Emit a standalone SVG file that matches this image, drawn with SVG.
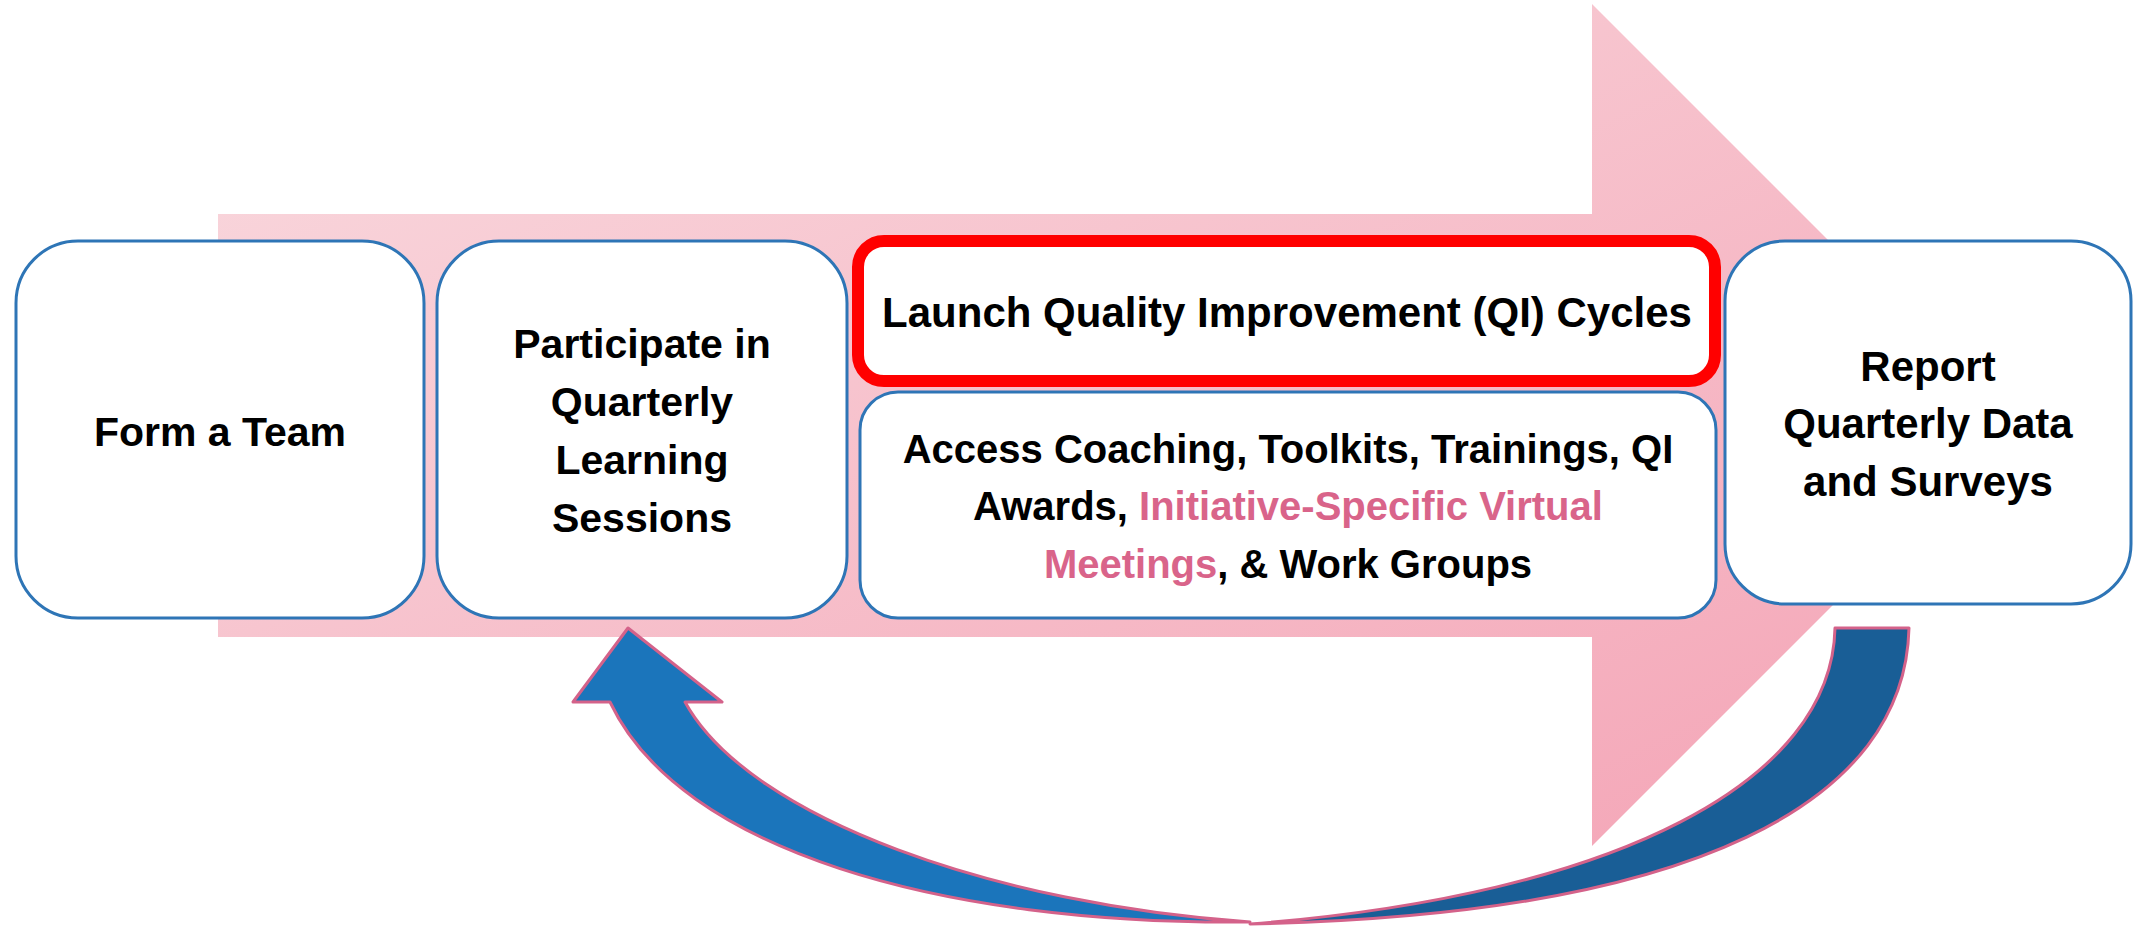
<svg xmlns="http://www.w3.org/2000/svg" width="2134" height="926" viewBox="0 0 2134 926">
<defs>
<linearGradient id="pinkGrad" x1="0" y1="0" x2="1" y2="1">
<stop offset="0" stop-color="#f9dadf"/>
<stop offset="1" stop-color="#f4a3b5"/>
</linearGradient>
<style>
.box{fill:#ffffff;stroke:#2e75b6;stroke-width:3}
.red{fill:#ffffff;stroke:#ff0000;stroke-width:12}
.t{font-family:"Liberation Sans",Arial,sans-serif;font-weight:bold;font-size:41px;fill:#000000;text-anchor:middle}
.s40{font-size:40px}
.pk{fill:#d9648a}
.cl{fill:#1b75bb;stroke:#d4628a;stroke-width:3;stroke-linejoin:round}
.cd{fill:#195e96;stroke:#d4628a;stroke-width:3;stroke-linejoin:round}
</style>
</defs>
<rect width="2134" height="926" fill="#ffffff"/>
<g id="bigArrow">
<path d="M218,214 L1592,214 L1592,4 L2013,425 L1592,846 L1592,637 L218,637 Z" fill="url(#pinkGrad)"/>
</g>
<g id="connectors">
<path class="cd" d="M1835,628 L1909,628 C1905,800 1700,915 1250,924 C1620,895 1832,780 1835,628 Z"/>
<path class="cl" d="M628,628 L722,702 L685,702 C750,820 1000,905 1250,922 C940,925 680,850 610,702 L573,702 Z"/>
</g>
<g id="node-form-team">
<rect class="box" x="16" y="241" width="408" height="377" rx="62"/>
<text class="t" x="220" y="446">Form a Team</text>
</g>
<g id="node-learning-sessions">
<rect class="box" x="437" y="241" width="410" height="377" rx="62"/>
<text class="t" x="642" y="358">Participate in</text>
<text class="t" x="642" y="416">Quarterly</text>
<text class="t" x="642" y="474">Learning</text>
<text class="t" x="642" y="532">Sessions</text>
</g>
<g id="node-qi-cycles">
<rect class="red" x="858" y="241" width="857" height="140" rx="26"/>
<text class="t" x="1287" y="327" style="font-size:42px">Launch Quality Improvement (QI) Cycles</text>
</g>
<g id="node-access">
<rect class="box" x="860" y="392" width="856" height="226" rx="38"/>
<text class="t s40" x="1288" y="463">Access Coaching, Toolkits, Trainings, QI</text>
<text class="t s40" x="1288" y="520">Awards, <tspan class="pk">Initiative-Specific Virtual</tspan></text>
<text class="t s40" x="1288" y="578"><tspan class="pk">Meetings</tspan>, &amp; Work Groups</text>
</g>
<g id="node-report">
<rect class="box" x="1725" y="241" width="406" height="363" rx="60"/>
<text class="t" x="1928" y="381" style="font-size:42px">Report</text>
<text class="t" x="1928" y="438" style="font-size:42px">Quarterly Data</text>
<text class="t" x="1928" y="496" style="font-size:42px">and Surveys</text>
</g>
</svg>
